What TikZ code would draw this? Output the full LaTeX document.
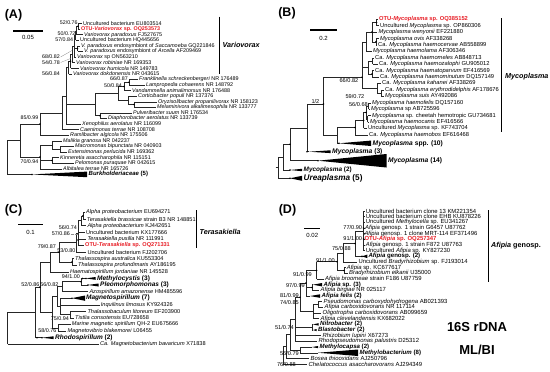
\documentclass[tikz,border=0pt]{standalone}
\usepackage{fontspec}
\setmainfont{Liberation Sans}
\definecolor{otured}{RGB}{232,30,38}
\newcommand\trCl[5]{\draw[br] (#1,#2) -- (#1,#3) (#4,#5) -- (#1,#5);}
\newcommand\trLv[3]{\draw[br] (#1,#3) -- (#2,#3);}
\newcommand\trDt[2]{\fill[black] (#1,#2) circle (0.9pt);}
\newcommand\trWg[5]{\fill[black] (#1,#2) -- (#3,#4) -- (#3,#5) -- cycle;}
\begin{document}
\begin{tikzpicture}[x=1pt,y=-1pt,
  br/.style={line width=0.5pt,black!85},
  sbar/.style={line width=1.3pt,black},
  brk/.style={line width=1.2pt,black},
  tA/.style={anchor=west,inner sep=0pt,font=\fontsize{5.4}{6}\selectfont},
  tB/.style={anchor=west,inner sep=0pt,font=\fontsize{5.75}{6.5}\selectfont},
  tC/.style={anchor=west,inner sep=0pt,font=\fontsize{5.6}{6.5}\selectfont},
  tD/.style={anchor=west,inner sep=0pt,font=\fontsize{5.9}{6.5}\selectfont},
  bA/.style={anchor=east,inner sep=0pt,font=\fontsize{5.3}{6}\selectfont},
  bB/.style={anchor=east,inner sep=0pt,font=\fontsize{5.6}{6}\selectfont},
  bC/.style={anchor=east,inner sep=0pt,font=\fontsize{5.4}{6}\selectfont},
  bD/.style={anchor=east,inner sep=0pt,font=\fontsize{5.6}{6}\selectfont},
  otu/.style={text=otured,font=\fontsize{#1}{6.5}\selectfont\bfseries},
  grp/.style={anchor=west,inner sep=0pt,font=\fontsize{#1}{8}\selectfont\bfseries},
  pan/.style={inner sep=0pt,font=\fontsize{12.5}{14}\selectfont\bfseries},
  cla/.style={anchor=west,inner sep=0pt,font=\fontsize{7.2}{8}\selectfont\bfseries\itshape},
  st/.style={inner sep=0pt,font=\fontsize{6}{7}\selectfont},
  big/.style={inner sep=0pt,font=\fontsize{13}{15}\selectfont\bfseries},
  lead/.style={line width=0.3pt,black!45}
]
\useasboundingbox (0,0) rectangle (550,372);
\fill[white] (0,0) rectangle (550,372);

%================= PANEL A =================
\node[pan] (pA) at (13.5,15) {(A)};
\draw[sbar] (13,31) -- (43,31);
\node[st] (sA) at (28,37.5) {0.05};
\trCl{78}{23.5}{29.09}{76.5}{26.3}
\trLv{78}{81.5}{23.5}\trLv{78}{79.5}{29.09}
\trCl{76.5}{26.3}{34.68}{75.5}{30.5}
\trLv{76.5}{82.5}{34.68}
\trCl{75.5}{30.5}{40.27}{74}{35.4}
\trLv{75.5}{78.5}{40.27}
\trCl{77.5}{45.86}{51.45}{74}{48.66}
\trLv{77.5}{79.5}{45.86}\trLv{77.5}{82.5}{51.45}
\trCl{74}{35.4}{57.04}{72}{46.2}
\trLv{74}{75.5}{57.04}
\trCl{72}{46.2}{62.63}{70.5}{54.4}
\trLv{72}{74.5}{62.63}
\trCl{70.5}{54.4}{68.22}{68.5}{61.3}
\trLv{70.5}{78.5}{68.22}
\trCl{68.5}{61.3}{73.81}{66}{67.55}
\trLv{68.5}{71.5}{73.81}
\trCl{129}{79.4}{84.99}{124}{82.2}
\trLv{129}{137.5}{79.4}\trLv{129}{144.5}{84.99}
\trCl{124}{82.2}{90.58}{118}{86.4}
\trLv{124}{130.5}{90.58}
\trCl{134}{101.76}{107.35}{128}{104.6}
\trLv{134}{156.5}{101.76}\trLv{134}{155.5}{107.35}
\trCl{128}{96.17}{104.6}{118}{100.4}
\trLv{128}{136.5}{96.17}
\trCl{118}{86.4}{100.4}{95}{93.4}
\trCl{100}{112.94}{118.53}{95}{115.7}
\trLv{100}{131.5}{112.94}\trLv{100}{106.5}{118.53}
\trCl{95}{93.4}{115.7}{66}{104.6}
\trCl{66}{67.55}{124.12}{62}{95.8}
\trLv{66}{80.5}{124.12}
\trCl{62}{95.8}{129.71}{40}{112.8}
\trLv{62}{78.5}{129.71}
\trCl{40}{112.8}{135.3}{20}{124}
\trLv{40}{68.5}{135.3}
\trCl{60}{146.48}{152.07}{52}{149.3}
\trLv{60}{73.5}{146.48}\trLv{60}{66.5}{152.07}
\trCl{52}{140.89}{149.3}{40}{145.1}
\trLv{52}{61.5}{140.89}
\trCl{52}{157.66}{163.25}{40}{160.5}
\trLv{52}{58.5}{157.66}\trLv{52}{73.5}{163.25}
\trCl{40}{145.1}{168.84}{20}{157}
\trLv{40}{61.5}{168.84}
\trCl{20}{124}{157}{7}{140.5}
\draw[br] (7,140.5) -- (7,174.43);
\trLv{7}{32}{174.43}
\trWg{32}{174.43}{87}{171.6}{177.2}
\trDt{78}{26.3}\trDt{77.5}{48.66}\trDt{70.5}{61.3}\trDt{129}{82.2}\trDt{124}{86.4}
\trDt{134}{104.6}\trDt{100}{115.7}\trDt{40}{124}\trDt{40}{157}\trDt{52}{160.5}\trDt{32}{174.43}
\draw[lead] (60.6,57) -- (72,50.5);
\draw[lead] (60.6,62.5) -- (70.5,58.5);
\node[bA] (a1) at (77.8,22.3) {52/0.76};
\node[bA] (a2) at (75.6,33.6) {50/0.72};
\node[bA] (a3) at (73.2,39.6) {57/0.84};
\node[bA] (a4) at (60,57) {68/0.82};
\node[bA] (a5) at (60,62.6) {54/0.78};
\node[bA] (a6) at (60,74) {56/0.84};
\node[bA] (a7) at (128,78.6) {66/0.87};
\node[bA] (a8) at (122,85.2) {50/0.84};
\node[bA] (a9) at (38.5,118) {85/0.99};
\node[bA] (a10) at (38.5,161.2) {70/0.94};
\node[tA] (A0) at (83,23.5) {Uncultured bacterium EU803514};
\node[tA,otu=5.4] (A1) at (81,29.09) {OTU-\textit{Variovorax} sp. OQ253573};
\node[tA] (A2) at (84,34.68) {\textit{Variovorax paradoxus} FJ527675};
\node[tA] (A3) at (80,40.27) {Uncultured bacterium HQ445656};
\node[tA] (A4) at (81,45.86) {\textit{V. paradoxus} endosymbiont of \textit{Saccamoeba} GQ221846};
\node[tA] (A5) at (84,51.45) {\textit{V. paradoxus} endosymbiont of \textit{Arcella} AF209469};
\node[tA] (A6) at (77,57.04) {\textit{Variovorax} sp ON563210};
\node[tA] (A7) at (76,62.63) {\textit{Variovorax robiniae} NR 169353};
\node[tA] (A8) at (80,68.22) {\textit{Variovorax humicola} NR 149783};
\node[tA] (A9) at (73,73.81) {\textit{Variovorax dokdonensis} NR 043615};
\node[tA] (A10) at (139,79.4) {\textit{Franklinella schreckenbergeri} NR 176489};
\node[tA] (A11) at (146,84.99) {\textit{Lampropedia cohaerens} NR 148792};
\node[tA] (A12) at (132,90.58) {\textit{Vandammella animalimorsus} NR 176488};
\node[tA] (A13) at (138,96.17) {\textit{Corticibacter populi} NR 137376};
\node[tA] (A14) at (158,101.76) {\textit{Oryzisolibacter propanilivorax} NR 158123};
\node[tA] (A15) at (157,107.35) {\textit{Melaminivora alkalimesophila} NR 133777};
\node[tA] (A16) at (133,112.94) {\textit{Pulveribacter suum} NR 176534};
\node[tA] (A17) at (108,118.53) {\textit{Diaphorobacter aerolatus} NR 133739};
\node[tA] (A18) at (82,124.12) {\textit{Xenophilus aerolatus} NR 116099};
\node[tA] (A19) at (80,129.71) {\textit{Caenimonas terrae} NR 108708};
\node[tA] (A20) at (70,135.3) {\textit{Ramlibacter algicola} NR 175506};
\node[tA] (A21) at (63,140.89) {\textit{Malikia granosa} NR 042237};
\node[tA] (A22) at (75,146.48) {\textit{Macromonas bipunctata} NR 040903};
\node[tA] (A23) at (68,152.07) {\textit{Extensimonas perlucida} NR 169362};
\node[tA] (A24) at (60,157.66) {\textit{Kinneretia asaccharophila} NR 115151};
\node[tA] (A25) at (75,163.25) {\textit{Pelomonas puraquae} NR 042615};
\node[tA] (A26) at (63,168.84) {\textit{Albitalea terrae} NR 165726};
\node[grp=6] (A27) at (88.5,174.43) {\textit{Burkholderiaceae} (5)};
\draw[brk] (219.3,16.5) -- (219.3,73.5);
\node[cla] (cA) at (222.5,45) {Variovorax};

%================= PANEL B =================
\node[pan] (pB) at (287,13.3) {(B)};
\draw[sbar] (310,30) -- (337,30);
\node[st] (sB) at (323.5,38.3) {0.2};
\trCl{376.5}{19.3}{25.72}{372}{22.5}
\trLv{376.5}{377.5}{19.3}\trLv{376.5}{378.5}{25.72}
\trCl{376}{38.56}{44.98}{372}{41.8}
\trLv{376}{378.5}{38.56}\trLv{376}{376.8}{44.98}
\trCl{372}{22.5}{41.8}{366}{32.1}
\trLv{372}{376.5}{32.14}
\trCl{366}{32.1}{51.4}{362}{41.8}
\trLv{366}{371.5}{51.4}
\trCl{372.5}{57.82}{64.24}{368}{61.0}
\trLv{372.5}{373.5}{57.82}\trLv{372.5}{377.5}{64.24}
\trCl{372}{70.66}{77.08}{368}{73.9}
\trLv{372}{373.5}{70.66}\trLv{372}{378.5}{77.08}
\trCl{368}{61.0}{73.9}{362}{67.4}
\trCl{381}{89.92}{96.34}{377}{93.1}
\trLv{381}{383.5}{89.92}\trLv{381}{383.5}{96.34}
\trCl{377}{83.5}{93.1}{362}{88.3}
\trLv{377}{380.5}{83.5}
\trCl{362}{41.8}{88.3}{323.5}{77.3}
\trCl{368.5}{102.76}{109.18}{366}{106}
\trLv{368.5}{370.5}{102.76}\trLv{368.5}{369.5}{109.18}
\trCl{367.5}{115.6}{122.02}{366}{118.8}
\trLv{367.5}{370.5}{115.6}\trLv{367.5}{368.5}{122.02}
\trCl{366}{106}{118.8}{363.5}{112.4}
\trCl{363.5}{112.4}{128.44}{355}{120.4}
\trLv{363.5}{366.5}{128.44}
\trCl{355}{120.4}{134.86}{337}{127.6}
\trLv{355}{367.5}{134.86}
\trCl{337}{127.6}{143.3}{323.5}{135.5}
\trLv{337}{339}{143.3}
\trWg{339}{143.3}{371}{140.6}{146}
\trCl{323.5}{77.3}{135.5}{307}{104}
\trCl{307}{104}{151.7}{290}{127.8}
\trLv{307}{309}{151.7}
\trWg{309}{151.7}{330.5}{150.3}{153.1}
\trCl{290}{127.8}{160.7}{283}{144.2}
\trLv{290}{318}{160.7}
\trWg{318}{160.7}{386.5}{154}{167.5}
\trCl{283}{144.2}{170}{278}{157.1}
\trLv{283}{290}{170}
\trWg{290}{170}{302}{168.8}{171.2}
\trCl{278}{157.1}{178.3}{275.5}{167.7}
\trLv{278}{290}{178.3}
\trWg{290}{178.3}{302}{175.8}{180.8}
\trDt{376.5}{22.5}\trDt{372}{32.1}\trDt{376}{41.8}\trDt{372}{73.9}\trDt{362}{77.3}
\trDt{366}{112.4}\trDt{363.5}{120.4}\trDt{355}{127.6}\trDt{323.5}{104}\trDt{307}{151.7}
\trDt{290}{170}\trDt{290}{178.3}\trDt{339}{143.3}\trDt{318}{160.7}\trDt{290}{144.2}
\node[bB] (b1) at (358.5,80.8) {66/0.82};
\node[bB] (b2) at (364.5,96.9) {59/0.72};
\node[bB] (b3) at (368,104.4) {56/0.68};
\node[bB] (b4) at (319.5,101.6) {1/2};
\node[tB,otu=5.75] (B0) at (379,19.3) {OTU-\textit{Mycoplasma} sp. OQ385152};
\node[tB] (B1) at (380,25.72) {Uncultured \textit{Mycoplasma} sp. OP860306};
\node[tB] (B2) at (378.3,32.14) {\textit{Mycoplasma wenyonii} EF221880};
\node[tB] (B3) at (380,38.56) {\textit{Mycoplasma ovis} AF338268};
\node[tB] (B4) at (378,44.98) {Ca. \textit{Mycoplasma haemocervae} AB558899};
\node[tB] (B5) at (373,51.4) {\textit{Mycoplasma haemolama} AF306346};
\node[tB] (B6) at (375,57.82) {Ca. \textit{Mycoplasma haemomeles} AB848713};
\node[tB] (B7) at (379,64.24) {Ca. \textit{Mycoplasma haemozalophi} GU905012};
\node[tB] (B8) at (375,70.66) {Ca. \textit{Mycoplasma haematoparvum} EF416569};
\node[tB] (B9) at (380,77.08) {Ca. \textit{Mycoplasma haemominutum} DQ157149};
\node[tB] (B10) at (382,83.5) {Ca. \textit{Mycoplasma kahanei} AF338269};
\node[tB] (B11) at (385,89.92) {Ca. \textit{Mycoplasma erythrodidelphis} AF178676};
\node[tB] (B12) at (385,96.34) {\textit{Mycoplasma suis} AY492086};
\node[tB] (B13) at (372,102.76) {\textit{Mycoplasma haemofelis} DQ157160};
\node[tB] (B14) at (371,109.18) {\textit{Mycoplasma} sp AB725596};
\node[tB] (B15) at (372,115.6) {\textit{Mycoplasma} sp. cheetah hemotropic GU734681};
\node[tB] (B16) at (370,122.02) {\textit{Mycoplasma haemocanis} EF416566};
\node[tB] (B17) at (368,128.44) {Uncultured \textit{Mycoplasma} sp. KF743704};
\node[tB] (B18) at (369,134.86) {Ca. \textit{Mycoplasma haemobos} EF616468};
\node[grp=6.7] (B19) at (372.5,143.3) {\textit{Mycoplasma} spp. (10)};
\node[grp=6.7] (B20) at (332,151.7) {\textit{Mycoplasma} (3)};
\node[grp=6.7] (B21) at (388,160.7) {\textit{Mycoplasma} (14)};
\node[grp=6.4] (B22) at (303.5,170) {\textit{Mycoplasma} (2)};
\node[grp=8.2] (B23) at (303.5,178.3) {\textit{Ureaplasma} (5)};
\draw[brk] (501.7,18) -- (501.7,132);
\node[cla] (cB) at (505,77) {Mycoplasma};

%================= PANEL C =================
\node[pan] (pC) at (13.5,210) {(C)};
\draw[sbar] (18,224.3) -- (43,224.3);
\node[st] (sC) at (30.5,232) {0.1};
\trCl{83}{212.5}{219.09}{81.5}{215.8}
\trLv{83}{85}{212.5}\trLv{83}{85.7}{219.09}
\trCl{81.5}{215.8}{225.68}{78}{220.7}
\trLv{81.5}{86.3}{225.68}
\trCl{78}{220.7}{245.45}{76}{233}
\trLv{78}{85}{232.27}\trLv{78}{86.3}{238.86}\trLv{78}{84}{245.45}
\trCl{76}{233}{252.04}{59}{242.5}
\trLv{76}{86.3}{252.04}
\trCl{72}{258.63}{265.22}{59}{261.9}
\trLv{72}{74}{258.63}\trLv{72}{77}{265.22}
\trCl{59}{242.5}{261.9}{50}{252.2}
\trCl{50}{252.2}{271.81}{40}{262}
\trLv{50}{69}{271.81}
\trCl{81}{278.4}{284.99}{62}{281.7}
\trLv{81}{86}{278.4}\trWg{86}{278.4}{95.5}{277}{279.8}
\trLv{81}{88}{284.99}\trWg{88}{284.99}{98.5}{283.5}{286.5}
\trCl{62}{281.7}{291.58}{57}{286.6}
\trLv{62}{88.3}{291.58}
\trLv{60}{72}{298.17}\trWg{72}{298.17}{85}{295.5}{300.8}
\trCl{70}{311.35}{317.94}{60}{314.6}
\trLv{70}{86.3}{311.35}\trLv{70}{74}{317.94}
\trCl{60}{298.17}{314.6}{57}{306.4}
\trLv{60}{99.7}{304.76}
\trCl{57}{286.6}{306.4}{52}{296.5}
\trCl{58}{324.53}{331.12}{52}{327.8}
\trLv{58}{70.7}{324.53}\trLv{58}{66.3}{331.12}
\trCl{52}{296.5}{327.8}{40}{312.2}
\trCl{40}{262}{312.2}{35}{287.1}
\trCl{35}{287.1}{337.71}{7.5}{312.4}
\trLv{35}{42}{337.71}\trWg{42}{337.71}{53.5}{336.3}{339.1}
\draw[br] (7.5,312.4) -- (7.5,344.3);
\trLv{7.5}{99}{344.3}
\trDt{83}{215.8}\trDt{78}{240}\trDt{72}{261.9}\trDt{81}{281.7}\trDt{82.5}{278.4}
\trDt{86}{278.4}\trDt{88}{284.99}\trDt{72}{298.17}\trDt{37}{337.71}\trDt{42}{337.71}
\trDt{59}{252.2}\trDt{40}{287.1}
\draw[lead,densely dotted] (70.6,233.7) -- (78,233.7);
\node[bC] (c1) at (77,227.7) {56/0.74};
\node[bC] (c2) at (70,233.7) {57/0.86};
\node[bC] (c3) at (56,247) {79/0.87};
\node[bC] (c4) at (75.5,250.4) {53/0.80};
\node[bC] (c5) at (80,276.3) {94/1.00};
\node[bC] (c6) at (39.5,284.3) {52/0.86};
\node[bC] (c7) at (58.5,284.3) {56/0.82};
\node[bC] (c8) at (69,318.3) {75/0.94};
\node[bC] (c9) at (56.5,331) {58/0.76};
\node[tC] (C0) at (86,212.5) {\textit{Alpha proteobacterium} EU694271};
\node[tC] (C1) at (86.7,219.09) {\textit{Terasakiella brassicae} strain B3 NR 148851};
\node[tC] (C2) at (87.3,225.68) {\textit{Alpha proteobacterium} KJ442651};
\node[tC] (C3) at (86,232.27) {Uncultured bacterium KX177666};
\node[tC] (C4) at (87.3,238.86) {\textit{Terasakiella pusilla} NR 111991};
\node[tC,otu=5.6] (C5) at (85,245.45) {OTU-\textit{Terasakiella} sp. OQ271331};
\node[tC] (C6) at (87.3,252.04) {Uncultured bacterium FJ202706};
\node[tC] (C7) at (75,258.63) {\textit{Thalassospira australica} KU553304};
\node[tC] (C8) at (78,265.22) {\textit{Thalassospira profundimaris} AY186195};
\node[tC] (C9) at (70,271.81) {\textit{Haematospirillum jordaniae} NR 145528};
\node[grp=6.5] (C10) at (97,278.4) {\textit{Methylocystis} (3)};
\node[grp=6.5] (C11) at (100,284.99) {\textit{Pleomorphomonas} (3)};
\node[tC] (C12) at (89.3,291.58) {\textit{Azospirillum amazonense} HM485596};
\node[grp=6.5] (C13) at (86,298.17) {\textit{Magnetospirillum} (7)};
\node[tC] (C14) at (100.7,304.76) {\textit{Inquilinus limosus} KY924326};
\node[tC] (C15) at (87.3,311.35) {\textit{Thalassobaculum litoreum} EF203900};
\node[tC] (C16) at (75,317.94) {\textit{Tistlia consotensis} EU728658};
\node[tC] (C17) at (71.7,324.53) {\textit{Marine magnetic spirillum} QH-2 EU675666};
\node[tC] (C18) at (67.3,331.12) {\textit{Magnetovibrio blakemorei} L06455};
\node[grp=6.5] (C19) at (55,337.71) {\textit{Rhodospirillum} (2)};
\node[tC] (C20) at (100,344.3) {\textit{Ca. Magnetobacterium bavaricum} X71838};
\draw[brk] (196.7,210) -- (196.7,248.3);
\node[cla] (cC) at (199.5,231.7) {Terasakiella};

%================= PANEL D =================
\node[pan] (pD) at (287.5,210) {(D)};
\draw[sbar] (304.3,228.3) -- (320,228.3);
\node[st] (sD) at (312.3,235.7) {0.02};
\draw[br] (363.5,211) -- (363.5,250.69);
\trLv{363.5}{364.7}{211}\trLv{363.5}{364.7}{216.67}\trLv{363.5}{364.7}{222.34}
\trLv{363.5}{364}{228.01}\trLv{363.5}{363.8}{233.68}\trLv{363.5}{363.8}{239.35}
\trLv{363.5}{364.7}{245.02}\trLv{363.5}{364.7}{250.69}
\trLv{355}{363.5}{230.8}
\draw[br] (355,230.8) -- (355,256.36);
\trLv{355}{362}{256.36}\trWg{362}{256.36}{367.3}{254.6}{258.1}
\trLv{343}{355}{243.6}
\trCl{343}{243.6}{262.03}{337}{252.8}
\trLv{343}{357.3}{262.03}
\trCl{344}{267.7}{273.37}{337}{270.5}
\trLv{344}{345.7}{267.7}\trLv{344}{348}{273.37}
\trCl{337}{252.8}{270.5}{316.5}{261.7}
\trCl{316.5}{261.7}{279.04}{306}{270.4}
\trLv{316.5}{324}{279.04}
\trCl{312}{284.71}{290.38}{306}{287.5}
\trLv{312}{313}{284.71}\trWg{313}{284.71}{322}{283}{286.4}
\trLv{312}{319}{290.38}
\trCl{306}{270.4}{296.05}{300}{283}
\trLv{306}{310}{296.05}\trWg{310}{296.05}{320}{294.3}{297.8}
\trCl{318}{301.72}{307.39}{313}{304.5}
\trLv{318}{322}{301.72}\trLv{318}{323}{307.39}
\trCl{313}{304.5}{318.73}{300}{311.6}
\trLv{313}{321}{313.06}\trLv{313}{319}{318.73}
\trCl{300}{283}{311.6}{295}{297.3}
\trCl{312}{324.4}{330.07}{295}{327.2}
\trLv{312}{313}{324.4}\trWg{313}{324.4}{318.5}{323.2}{325.6}
\trLv{312}{313}{330.07}\trWg{313}{330.07}{316.5}{329}{331.1}
\trCl{295}{297.3}{341.41}{290}{319}
\trLv{295}{321}{335.74}\trLv{295}{317}{341.41}
\trCl{300}{347.08}{352.75}{290}{350}
\trLv{300}{312}{347.08}\trWg{312}{347.08}{318}{346}{348.2}
\trLv{300}{318}{352.75}\trWg{318}{352.75}{358}{349.5}{356}
\trCl{290}{319}{350}{286}{334.5}
\trCl{286}{334.5}{358.42}{283}{346.5}
\trLv{286}{309}{358.42}
\draw[br] (283,346.5) -- (283,364.09);
\trLv{283}{307}{364.09}
\trDt{363.5}{228}\trDt{363.5}{239}\trDt{355}{243.6}\trDt{337}{261.7}\trDt{316.5}{270.4}
\trDt{306}{283}\trDt{312}{287.5}\trDt{300}{297.3}\trDt{362}{256.36}\trDt{344}{270.5}
\node[bD] (d1) at (362.3,227.7) {77/0.90};
\node[bD] (d2) at (362.3,238.3) {91/1.00};
\node[bD] (d3) at (351,248.3) {75/0.88};
\node[bD] (d4) at (335,260) {91/1.00};
\node[bD] (d5) at (312,274.3) {91/0.99};
\node[bD] (d6) at (305,285.5) {97/0.99};
\node[bD] (d7) at (299,295.5) {81/0.99};
\node[bD] (d8) at (299,302) {74/0.85};
\node[bD] (d9) at (294,327) {51/0.74};
\node[bD] (d10) at (299,353) {56/0.79};
\node[bD] (d11) at (296,364.5) {76/0.88};
\node[tD] (D0) at (365.7,211) {Uncultured bacterium clone 13 KM221354};
\node[tD] (D1) at (365.7,216.67) {Uncultured bacterium clone EHB KU878226};
\node[tD] (D2) at (365.7,222.34) {Uncultured \textit{Methylocella} sp. EU341267};
\node[tD] (D3) at (365,228.01) {\textit{Afipia} genosp. 1 strain G6457 U87762};
\node[tD] (D4) at (364.3,233.68) {\textit{Afipia} genosp. 1 clone MRT-114 EF371496};
\node[tD,otu=5.9] (D5) at (364.3,239.35) {OTU-\textit{Afipia} sp. OQ257347};
\node[tD] (D6) at (365.7,245.02) {\textit{Afipia} genosp. 1 strain F872 U87763};
\node[tD] (D7) at (365.7,250.69) {Uncultured \textit{Afipia} sp. KY827230};
\node[grp=6.1] (D8) at (368.3,256.36) {\textit{Afipia} genosp. (2)};
\node[tD] (D9) at (358.3,262.03) {Uncultured \textit{Bradyrhizobium} sp. FJ193014};
\node[tD] (D10) at (346.7,267.7) {\textit{Afipia} sp. KC677617};
\node[tD] (D11) at (349,273.37) {\textit{Bradyrhizobium elkanii} U35000};
\node[tD] (D12) at (325,279.04) {\textit{Afipia broomeae} strain F186 U87759};
\node[grp=6.1] (D13) at (323.5,284.71) {\textit{Afipia} sp. (3)};
\node[tD] (D14) at (320.5,290.38) {\textit{Afipia birgiae} NR 025117};
\node[grp=6.1] (D15) at (321.5,296.05) {\textit{Afipia felis} (2)};
\node[tD] (D16) at (323.5,301.72) {\textit{Pseudomonas carboxydohydrogena} AB021393};
\node[tD] (D17) at (324.5,307.39) {\textit{Afipia carboxidovorans} NR 117114};
\node[tD] (D18) at (322.5,313.06) {\textit{Oligotropha carboxidovorans} AB099659};
\node[tD] (D19) at (320.5,318.73) {\textit{Afipia clevelandensis} KX682022};
\node[grp=6.1] (D20) at (320,324.4) {\textit{Nitrobacter} (2)};
\node[grp=6.1] (D21) at (318,330.07) {\textit{Blastobacter} (2)};
\node[tD] (D22) at (322.5,335.74) {\textit{Rhizobium lupini} X67273};
\node[tD] (D23) at (318.5,341.41) {\textit{Rhodopseudomonas palustris} D25312};
\node[grp=6.1] (D24) at (319.5,347.08) {\textit{Methylocapsa} (2)};
\node[grp=6.1] (D25) at (359.5,352.75) {\textit{Methylobacterium} (8)};
\node[tD] (D26) at (310.5,358.42) {\textit{Bosea thiooxidans} AJ250796};
\node[tD] (D27) at (308.5,364.09) {\textit{Chelatococcus asaccharovorans} AJ294349};
\draw[brk] (488.3,210) -- (488.3,282);
\node[cla,font=\fontsize{7.2}{8}\selectfont\bfseries] (cD) at (491,246) {\textit{Afipia} genosp.};
\node[big] (t16) at (477,327.5) {16S rDNA};
\node[big] (tml) at (477,349.5) {ML/BI};
\end{tikzpicture}
\end{document}
